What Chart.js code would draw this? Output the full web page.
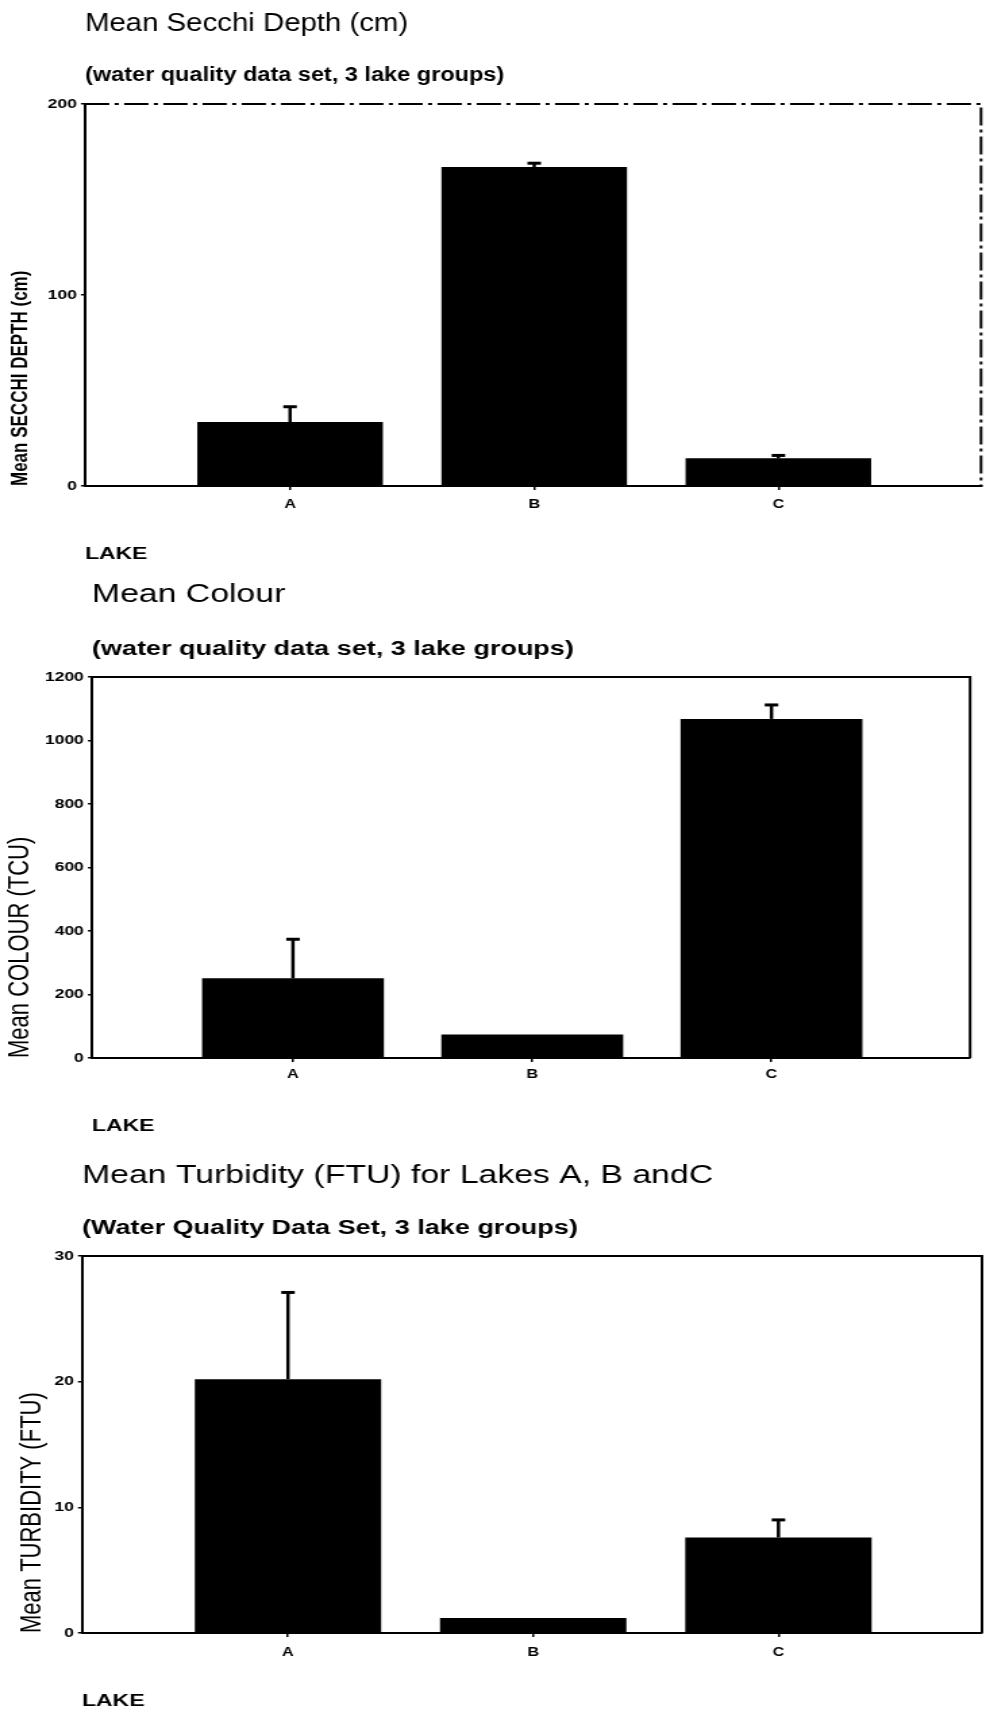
<!DOCTYPE html>
<html>
<head>
<meta charset="utf-8">
<title>Lake water quality means</title>
<script src="https://cdn.jsdelivr.net/npm/chart.js@4.4.1/dist/chart.umd.min.js"></script>
<style>
  html, body { margin: 0; padding: 0; background: #fff; overflow: hidden; }
  /* the printed figure is set wide: draw narrow, then stretch sideways */
  .panel { width: 730px; transform: scaleX(1.3507); transform-origin: 0 0; }
  canvas { display: block; }
</style>
</head>
<body>
<div class="panel"><canvas id="secchi" width="730" height="570"></canvas></div>
<div class="panel"><canvas id="colour" width="730" height="570"></canvas></div>
<div class="panel"><canvas id="turbidity" width="730" height="572"></canvas></div>
<script>
const lakes = ['A', 'B', 'C'];

const secchiMeans = [33.5, 167, 14.5];
const secchiErrors = [8, 2, 1.5];
const secchiTicks = [0, 100, 200];

const colourMeans = [251, 74, 1068];
const colourErrors = [123, 0, 44];
const colourTicks = [0, 200, 400, 600, 800, 1000, 1200];

const turbidityMeans = [20.2, 1.2, 7.6];
const turbidityErrors = [6.9, 0, 1.4];
const turbidityTicks = [0, 10, 20, 30];

const FONT = '"Liberation Sans", Arial, Helvetica, sans-serif';
Chart.defaults.font.family = FONT;
Chart.defaults.color = '#000';

// heading + subheading, left edge flush with the plot box
const headings = {
  id: 'headings',
  afterDraw(chart, args, opts) {
    const { ctx, chartArea } = chart;
    const sq = opts.squeeze || 1;
    ctx.save();
    ctx.translate(chartArea.left, 0);
    ctx.scale(sq, 1);
    ctx.fillStyle = '#000';
    ctx.textAlign = 'left';
    ctx.textBaseline = 'middle';
    ctx.font = '25px ' + FONT;
    ctx.fillText(opts.title, 0, opts.titleY);
    ctx.font = 'bold 20px ' + FONT;
    ctx.fillText(opts.subtitle, 0, opts.subtitleY);
    ctx.restore();
  }
};

// top and right sides of the plot box
const frame = {
  id: 'frame',
  afterDraw(chart, args, opts) {
    const { ctx, chartArea: a } = chart;
    ctx.save();
    ctx.strokeStyle = '#000';
    ctx.lineWidth = 2;
    ctx.setLineDash(opts.dash || []);
    ctx.beginPath();
    ctx.moveTo(a.left, a.top);
    ctx.lineTo(a.right, a.top);
    ctx.lineTo(a.right, a.bottom);
    ctx.stroke();
    ctx.restore();
  }
};

// one-sided error bars (mean + error) on top of each bar
const errorBars = {
  id: 'errorBars',
  afterDatasetsDraw(chart) {
    const { ctx } = chart;
    const y = chart.scales.y;
    const ds = chart.data.datasets[0];
    const meta = chart.getDatasetMeta(0);
    ctx.save();
    ctx.strokeStyle = '#000';
    meta.data.forEach((bar, i) => {
      const err = ds.errors[i];
      if (!err) return;
      const top = y.getPixelForValue(ds.data[i].y + err);
      ctx.lineWidth = 2.5;
      ctx.beginPath();
      ctx.moveTo(bar.x, bar.y);
      ctx.lineTo(bar.x, top);
      ctx.stroke();
      ctx.lineWidth = 3;
      ctx.beginPath();
      ctx.moveTo(bar.x - 5, top);
      ctx.lineTo(bar.x + 5, top);
      ctx.stroke();
    });
    ctx.restore();
  }
};

function drawPanel(id, p) {
  new Chart(document.getElementById(id), {
    type: 'bar',
    data: {
      datasets: [{
        data: p.means.map((v, i) => ({ x: i + 1, y: v })),
        errors: p.errors,
        backgroundColor: '#000',
        borderWidth: 0,
        barPercentage: 0.76,
        categoryPercentage: 1
      }]
    },
    options: {
      responsive: false,
      animation: false,
      events: [],
      layout: { padding: { top: p.plotTop, right: p.padRight, left: 0, bottom: 0 } },
      plugins: {
        legend: { display: false },
        tooltip: { enabled: false },
        headings: {
          title: p.title, subtitle: p.subtitle,
          titleY: p.titleY, subtitleY: p.subtitleY, squeeze: p.squeeze
        },
        frame: { dash: p.frameDash }
      },
      scales: {
        x: {
          type: 'linear',
          min: 0.16,
          max: 3.83,
          offset: false,
          afterBuildTicks: s => { s.ticks = lakes.map((_, i) => ({ value: i + 1 })); },
          afterFit: s => { s.height = p.height - p.plotBottom; },
          ticks: {
            callback: v => lakes[v - 1],
            font: { size: 12, weight: 'bold' },
            padding: p.xTickPad,
            maxRotation: 0,
            autoSkip: false
          },
          grid: { drawOnChartArea: false, drawTicks: true, tickLength: 4, color: '#000', lineWidth: 1.5, offset: false },
          border: { display: true, color: '#000', width: 2 },
          title: {
            display: true,
            text: 'LAKE',
            align: 'start',
            font: { size: 17, weight: 'bold' },
            padding: { top: 0, bottom: p.lakePad }
          }
        },
        y: {
          min: 0,
          max: p.ticks[p.ticks.length - 1],
          afterBuildTicks: s => { s.ticks = p.ticks.map(v => ({ value: v })); },
          afterFit: s => { s.width = p.plotLeft; },
          ticks: { callback: v => String(v), font: { size: 13, weight: 'bold' }, padding: 3 },
          grid: { drawOnChartArea: false, drawTicks: true, tickLength: 3, color: '#000', lineWidth: 1.5 },
          border: { display: true, color: '#000', width: 2 },
          title: {
            display: true,
            text: p.yTitle,
            align: 'start',
            font: p.yTitleFont,
            padding: { top: p.yTitlePad, bottom: 0 }
          }
        }
      }
    },
    plugins: [headings, frame, errorBars]
  });
}

drawPanel('secchi', {
  means: secchiMeans, errors: secchiErrors, ticks: secchiTicks,
  title: 'Mean Secchi Depth (cm)',
  subtitle: '(water quality data set, 3 lake groups)',
  yTitle: 'Mean SECCHI DEPTH (cm)',
  yTitleFont: { size: 17, weight: 'bold' }, yTitlePad: 5.5,
  height: 570, plotTop: 104, plotBottom: 486, plotLeft: 62.9, padRight: 3.7,
  titleY: 24, subtitleY: 75, squeeze: 0.87, frameDash: [18, 4, 3, 4],
  xTickPad: 7.8, lakePad: 5.8
});

drawPanel('colour', {
  means: colourMeans, errors: colourErrors, ticks: colourTicks,
  title: 'Mean Colour',
  subtitle: '(water quality data set, 3 lake groups)',
  yTitle: 'Mean COLOUR (TCU)',
  yTitleFont: { size: 22 }, yTitlePad: 1.6,
  height: 570, plotTop: 107, plotBottom: 488, plotLeft: 68.1, padRight: 11.8,
  titleY: 25, subtitleY: 79, xTickPad: 5.8, lakePad: 3.8
});

drawPanel('turbidity', {
  means: turbidityMeans, errors: turbidityErrors, ticks: turbidityTicks,
  title: 'Mean Turbidity (FTU) for Lakes A, B andC',
  subtitle: '(Water Quality Data Set, 3 lake groups)',
  yTitle: 'Mean TURBIDITY (FTU)',
  yTitleFont: { size: 22 }, yTitlePad: 10.5,
  height: 572, plotTop: 116, plotBottom: 493, plotLeft: 60.7, padRight: 3,
  titleY: 36, subtitleY: 88, xTickPad: 8.8, lakePad: 0.5
});
</script>
</body>
</html>
